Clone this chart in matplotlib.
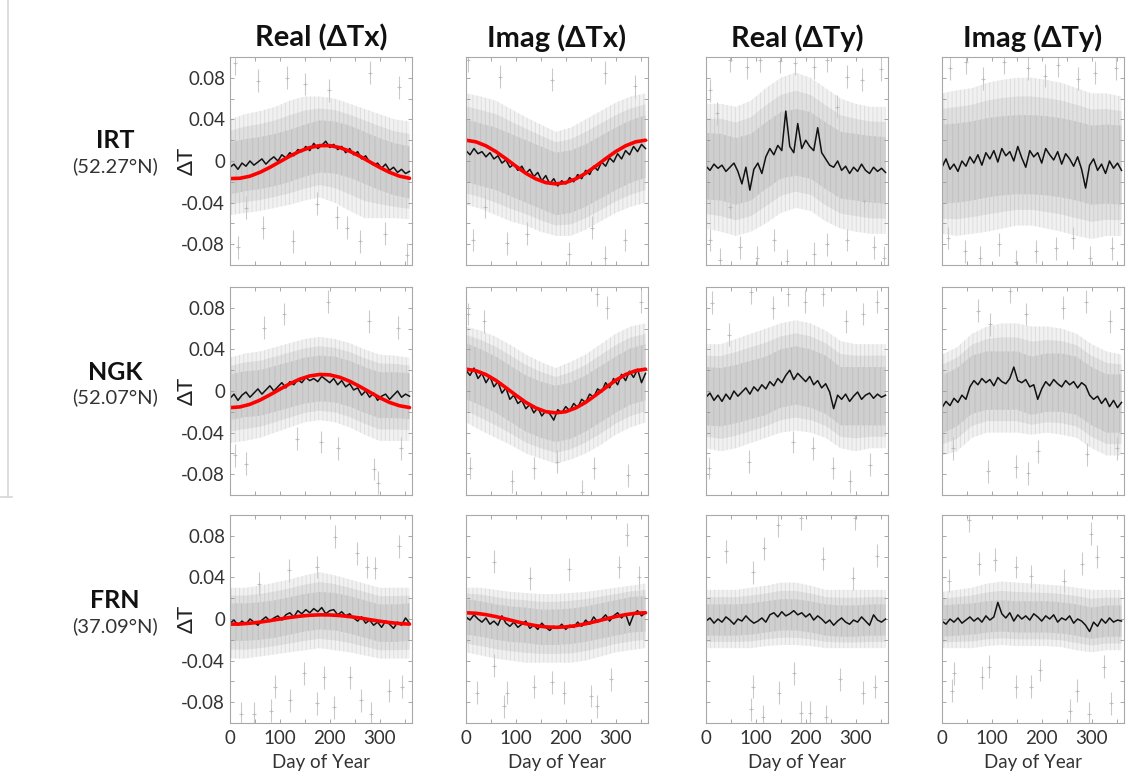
import matplotlib.pyplot as plt
import numpy as np
from matplotlib.lines import Line2D
from matplotlib.ticker import MultipleLocator, FuncFormatter

plt.rcParams['font.family'] = ['Lato', 'DejaVu Sans']
plt.rcParams['axes.unicode_minus'] = False
plt.rcParams['hatch.linewidth'] = 0.7

# all values below are in units of 1e-3
stations = ['IRT', 'NGK', 'FRN']
latitudes = ['(52.27°N)', '(52.07°N)', '(37.09°N)']
columns = ['Real (ΔTx)', 'Imag (ΔTx)', 'Real (ΔTy)', 'Imag (ΔTy)']

mean_days = np.arange(0, 361, 8)     # daily mean (black), sampled every 8 days
band_days = np.arange(0, 361, 30)    # spread of the grey cloud
fit_days = np.arange(0, 361, 20)     # annual fit (red)

# ---------------- IRT ----------------
irt_rtx_mean = [-6, -3, -8, -2, -5, 0, -4, -1, 2, -3, 1, 4, 0, 6, 3, 8, 5, 11, 9, 14, 10, 17, 12,
                15, 19, 13, 16, 11, 14, 8, 12, 6, 9, 2, 5, -1, -4, -2, -7, -3, -9, -6, -11, -8, -12, -10]
irt_rtx_in_hi = [18, 21, 23, 26, 30, 35, 39, 38, 34, 28, 22, 17, 14]
irt_rtx_in_lo = [-32, -29, -27, -24, -20, -15, -11, -12, -16, -22, -28, -33, -36]
irt_rtx_out_hi = [40, 45, 48, 52, 58, 62, 62, 60, 55, 50, 45, 40, 38]
irt_rtx_out_lo = [-52, -50, -48, -45, -42, -38, -35, -40, -48, -55, -55, -55, -56]
irt_rtx_sp_days = [10, 57, 114, 151, 198, 281, 338, 17, 67, 127, 214, 234, 261, 311, 355, 33, 174]
irt_rtx_sp_vals = [94, 77, 80, 74, 68, 85, 71, -83, -64, -77, -54, -64, -77, -70, -90, -45, -41]
irt_rtx_fit = [-16.9, -16.6, -14.6, -10.9, -6.1, -0.7, 4.7, 9.4, 12.9, 14.8,
               14.8, 12.9, 9.4, 4.7, -0.7, -6.1, -10.9, -14.6, -16.6]

irt_itx_mean = [10, 6, 12, 7, 9, 4, 8, 2, 5, -2, 1, -6, -3, -9, -5, -12, -8, -15, -11, -19, -14, -22, -17,
                -24, -19, -22, -16, -20, -13, -17, -9, -13, -5, -9, -1, -5, 3, -1, 7, 2, 10, 6, 14, 9, 16, 12]
irt_itx_in_hi = [40, 36, 32, 26, 20, 14, 8, 10, 16, 24, 32, 39, 44]
irt_itx_in_lo = [-20, -24, -28, -34, -40, -46, -52, -50, -44, -36, -28, -21, -16]
irt_itx_out_hi = [65, 62, 58, 50, 42, 35, 28, 32, 40, 48, 56, 62, 65]
irt_itx_out_lo = [-42, -46, -52, -58, -62, -68, -72, -72, -66, -58, -50, -44, -40]
irt_itx_sp_days = [5, 69, 172, 279, 339, 15, 82, 122, 253, 279, 319, 206, 39]
irt_itx_sp_vals = [97, 81, 78, 85, 72, -76, -79, -70, -64, -93, -76, -89, -44]
irt_itx_fit = [20, 18.4, 14.6, 9.0, 2.2, -5.0, -11.8, -17.2, -20.8, -22,
               -20.8, -17.2, -11.8, -5.0, 2.2, 9.0, 14.6, 18.4, 20]

irt_rty_mean = [-5, -9, -3, -7, -4, -10, -6, -2, -10, -22, -6, -28, -8, -2, -12, 4, 12, 6, 15, 10, 48, 14, 8,
                36, 12, 20, 14, 10, 32, 8, 2, -4, -6, 0, -9, -5, -12, -6, -10, -3, -9, -12, -6, -10, -7, -11]
irt_rty_in_hi = [27, 26, 22, 26, 37, 47, 50, 47, 37, 28, 26, 24, 23]
irt_rty_in_lo = [-37, -38, -42, -38, -27, -17, -14, -17, -27, -36, -38, -40, -41]
irt_rty_out_hi = [55, 55, 52, 58, 70, 80, 85, 80, 70, 60, 55, 52, 52]
irt_rty_out_lo = [-65, -68, -72, -68, -60, -50, -45, -48, -58, -65, -68, -70, -70]
irt_rty_sp_days = [8, 49, 82, 109, 149, 179, 216, 243, 283, 313, 350, 8, 29, 69, 102, 136, 163, 216, 243,
                   283, 337, 357, 22, 263, 49, 317]
irt_rty_sp_vals = [68, 97, 90, 97, 96, 94, 90, 97, 81, 78, 88, -76, -95, -83, -93, -76, -96, -89, -80,
                   -76, -83, -93, 46, 52, -44, -38]

irt_ity_mean = [-6, 2, -8, -3, -10, 0, -5, 4, -2, 6, -4, 8, 2, 10, -1, 12, 5, 9, 0, 14, 3, -6, 10,
                4, 8, -2, 12, 6, 1, 9, -3, 7, 2, -5, 4, -8, -26, -4, 2, -9, -3, -12, 0, -7, -2, -9]
irt_ity_in_hi = [35, 36, 38, 41, 43, 44, 44, 43, 41, 38, 34, 35, 34]
irt_ity_in_lo = [-41, -40, -38, -35, -33, -32, -32, -33, -35, -38, -42, -41, -42]
irt_ity_out_hi = [65, 68, 70, 75, 78, 80, 80, 78, 75, 70, 65, 65, 62]
irt_ity_out_lo = [-70, -72, -70, -68, -65, -62, -62, -65, -68, -72, -75, -72, -72]
irt_ity_sp_days = [16, 49, 83, 124, 173, 207, 232, 273, 307, 349, 12, 46, 77, 114, 148, 189, 228, 263, 297, 341]
irt_ity_sp_vals = [89, 95, 79, 95, 89, 82, 92, 79, 85, 89, -74, -87, -93, -80, -97, -87, -84, -74, -93, -84]

# ---------------- NGK ----------------
ngk_rtx_mean = [-7, -3, -9, -4, -1, -6, -2, 2, -3, 1, 5, 0, 4, 8, 3, 9, 6, 11, 8, 13, 10, 12, 9,
                14, 11, 8, 12, 6, 10, 4, 7, 1, 3, -4, 0, -6, -2, -9, -5, -3, -8, -4, 0, -6, -3, -5]
ngk_rtx_in_hi = [16, 19, 20, 24, 28, 32, 34, 33, 29, 23, 18, 18, 17]
ngk_rtx_in_lo = [-28, -25, -24, -20, -16, -12, -10, -11, -15, -21, -26, -26, -27]
ngk_rtx_out_hi = [32, 36, 38, 42, 46, 50, 52, 50, 46, 40, 35, 34, 32]
ngk_rtx_out_lo = [-50, -48, -45, -40, -35, -30, -28, -30, -35, -42, -48, -48, -48]
ngk_rtx_sp_days = [68, 108, 279, 336, 196, 11, 32, 135, 182, 216, 289, 296, 343]
ngk_rtx_sp_vals = [61, 74, 67, 61, 86, -62, -70, -46, -49, -55, -75, -88, -55]
ngk_rtx_fit = [-16, -15.3, -12.8, -8.8, -3.7, 1.7, 7.0, 11.4, 14.5, 15.9,
               15.5, 13.2, 9.4, 4.4, -1.0, -6.4, -11.0, -14.2, -15.9]

ngk_itx_mean = [20, 15, 22, 12, 17, 8, 14, 4, 9, -2, 3, -8, -4, -12, -9, -17, -13, -21, -16, -24, -19, -22, -28,
                -18, -21, -15, -19, -12, -16, -8, -11, -3, -6, 2, -1, 8, 3, 12, 6, 16, 10, 19, 13, 21, 8, 17]
ngk_itx_in_hi = [46, 40, 33, 24, 15, 9, 5, 8, 15, 24, 33, 41, 45]
ngk_itx_in_lo = [-8, -14, -21, -30, -39, -45, -49, -46, -39, -30, -21, -13, -9]
ngk_itx_out_hi = [62, 58, 52, 44, 35, 28, 22, 28, 35, 45, 55, 62, 65]
ngk_itx_out_lo = [-30, -38, -45, -52, -60, -65, -70, -66, -60, -52, -42, -35, -30]
ngk_itx_sp_days = [5, 36, 263, 283, 350, 9, 92, 136, 183, 233, 256, 324]
ngk_itx_sp_vals = [74, 67, 93, 80, 86, -74, -87, -74, -68, -97, -74, -81]
ngk_itx_fit = [21, 19.5, 15.8, 10.2, 3.2, -4.0, -10.9, -16.3, -19.9, -21,
               -19.9, -16.3, -10.9, -4.0, 3.2, 10.2, 15.8, 19.5, 21]

ngk_rty_mean = [-6, -2, -9, -4, -10, -3, -8, 0, -5, -1, 3, -3, 4, 0, 6, 2, 9, 5, 12, 8, 15, 20, 11,
                17, 13, 9, 14, 6, 10, 3, 7, -1, -17, -4, -8, -3, -10, -5, -1, -8, -4, -2, -7, -3, -6, -4]
ngk_rty_in_hi = [23, 22, 25, 29, 33, 40, 43, 40, 34, 23, 23, 23, 23]
ngk_rty_in_lo = [-33, -34, -31, -27, -23, -16, -13, -16, -22, -33, -33, -33, -33]
ngk_rty_out_hi = [45, 45, 50, 55, 60, 65, 68, 65, 58, 48, 45, 45, 45]
ngk_rty_out_lo = [-55, -58, -55, -50, -45, -40, -38, -40, -45, -55, -58, -55, -55]
ngk_rty_sp_days = [13, 90, 134, 164, 198, 234, 281, 315, 342, 47, 7, 87, 174, 254, 288, 328, 214]
ngk_rty_sp_vals = [85, 95, 80, 93, 86, 93, 67, 74, 86, 54, -74, -68, -49, -74, -87, -71, -55]

ngk_ity_mean = [-16, -10, -14, -7, -11, -4, -8, 4, 10, 6, 12, 8, 11, 5, 13, 9, 7, 12, 23, 10, 8, 11, 4,
                6, -8, 2, 9, 5, 11, 7, 4, 10, 6, 9, 3, 8, 5, -4, -8, -5, -12, -7, -15, -9, -16, -11]
ngk_ity_in_hi = [15, 22, 34, 38, 38, 38, 33, 36, 36, 33, 23, 16, 16]
ngk_ity_in_lo = [-41, -34, -22, -18, -18, -18, -23, -20, -20, -23, -33, -40, -40]
ngk_ity_out_hi = [35, 42, 55, 62, 65, 65, 62, 62, 60, 55, 45, 38, 35]
ngk_ity_out_lo = [-62, -58, -45, -40, -40, -40, -42, -40, -42, -45, -55, -62, -62]
ngk_ity_sp_days = [136, 72, 96, 243, 288, 337, 169, 92, 149, 172, 192, 290, 351, 22]
ngk_ity_sp_vals = [96, 77, 64, 80, 86, 67, 74, -77, -73, -79, -58, -61, -55, -55]

# ---------------- FRN ----------------
frn_rtx_mean = [-4, -1, -6, -2, -5, 0, -3, -6, -1, 2, -2, 1, 3, -1, 4, 6, 2, 8, 5, 9, 6, 10, 7,
                11, 5, 8, 9, 4, 7, 3, 5, 1, -2, 2, -4, -1, -6, -3, -8, -2, -5, -9, -3, -6, 1, -4]
frn_rtx_in_hi = [15, 15, 16, 18, 21, 24, 26, 25, 22, 18, 14, 14, 15]
frn_rtx_in_lo = [-21, -21, -20, -18, -15, -12, -10, -11, -14, -18, -22, -22, -21]
frn_rtx_out_hi = [30, 30, 32, 35, 38, 42, 45, 42, 38, 34, 30, 30, 30]
frn_rtx_out_lo = [-38, -38, -36, -34, -32, -30, -28, -30, -32, -35, -38, -38, -38]
frn_rtx_sp_days = [210, 254, 275, 291, 338, 59, 119, 175, 22, 48, 82, 91, 121, 148, 175, 188, 209, 240,
                   263, 283, 318, 345]
frn_rtx_sp_vals = [79, 63, 50, 49, 70, 34, 47, 50, -91, -91, -88, -65, -78, -52, -81, -56, -85, -56,
                   -78, -91, -69, -65]
frn_rtx_fit = [-5, -4.8, -4.1, -3.0, -1.6, 0, 1.5, 2.7, 3.6, 4.0,
               3.9, 3.3, 2.3, 1.0, -0.6, -2.1, -3.4, -4.4, -4.9]

frn_itx_mean = [2, -1, 4, 0, -3, 1, -5, -2, -6, 3, -4, -7, -3, -8, -5, -2, -9, -6, -10, -4, -8, -11, -7,
                -9, -5, -10, -6, -8, -3, -7, -1, -5, 2, -3, 0, 4, -2, 3, 6, 1, 5, -6, 4, 8, 3, 6]
frn_itx_in_hi = [19, 17, 14, 12, 11, 9, 9, 10, 12, 15, 18, 21, 22]
frn_itx_in_lo = [-15, -17, -20, -22, -23, -25, -25, -24, -22, -19, -16, -13, -12]
frn_itx_out_hi = [30, 30, 28, 26, 25, 24, 24, 25, 26, 28, 30, 32, 34]
frn_itx_out_lo = [-32, -35, -38, -40, -42, -42, -42, -42, -40, -36, -32, -30, -28]
frn_itx_sp_days = [56, 129, 206, 307, 323, 347, 22, 76, 82, 136, 172, 196, 250, 263, 290, 56]
frn_itx_sp_vals = [55, 39, 48, 50, 81, 40, -71, -84, -71, -65, -61, -71, -74, -84, -58, -45]
frn_itx_fit = [6, 5.5, 4.2, 2.3, 0, -2.4, -4.6, -6.4, -7.6, -8,
               -7.6, -6.4, -4.6, -2.4, 0, 2.3, 4.2, 5.5, 6]

frn_rty_mean = [-2, 1, -4, 0, -3, 2, -1, -5, 0, -2, 3, -1, -4, -2, 1, -3, 4, 6, 2, 7, 3, 5, 8,
                4, 6, 2, 5, -1, 3, 0, -4, -1, -6, -2, 1, -3, -5, -1, -3, 2, -2, -6, 4, -1, -3, 0]
frn_rty_in_hi = [14, 14, 14, 15, 17, 19, 19, 17, 14, 13, 13, 14, 14]
frn_rty_in_lo = [-16, -16, -16, -15, -13, -11, -11, -13, -16, -17, -17, -16, -16]
frn_rty_out_hi = [28, 28, 28, 30, 32, 35, 35, 32, 28, 28, 28, 28, 28]
frn_rty_out_lo = [-28, -28, -28, -28, -26, -25, -25, -26, -28, -28, -28, -28, -28]
frn_rty_sp_days = [40, 94, 117, 144, 191, 235, 298, 342, 295, 94, 90, 114, 147, 191, 208, 241, 268, 315, 338, 177]
frn_rty_sp_vals = [65, 45, 68, 90, 97, 58, 97, 61, 39, -65, -87, -94, -71, -90, -90, -94, -58, -71, -65, -52]

frn_ity_mean = [-2, -5, 0, -3, 1, -4, -1, 2, -2, 1, -3, 3, -1, 2, 16, 5, 1, 6, -2, 4, 0, 3, -1,
                5, 2, -2, 3, 0, 4, -3, 1, -1, 3, -4, 0, -2, -6, -12, -3, -7, 0, -4, 1, -3, -1, -2]
frn_ity_in_hi = [13, 14, 15, 17, 18, 17, 17, 17, 16, 14, 11, 13, 13]
frn_ity_in_lo = [-17, -16, -15, -13, -12, -13, -13, -13, -14, -16, -19, -17, -17]
frn_ity_out_hi = [26, 28, 30, 34, 36, 35, 34, 33, 32, 30, 28, 28, 28]
frn_ity_out_lo = [-28, -28, -28, -26, -25, -26, -26, -26, -27, -30, -32, -30, -30]
frn_ity_sp_days = [55, 75, 106, 149, 179, 244, 298, 281, 311, 15, 25, 21, 81, 94, 149, 179, 196, 257,
                   271, 294, 338, 324]
frn_ity_sp_vals = [95, 53, 57, 50, 41, 37, 82, 53, 60, 37, -52, -69, -56, -46, -65, -65, -49, -88,
                   -69, -91, -81, -46]

panels = [
    [(irt_rtx_mean, irt_rtx_in_lo, irt_rtx_in_hi, irt_rtx_out_lo, irt_rtx_out_hi, irt_rtx_sp_days, irt_rtx_sp_vals, irt_rtx_fit),
     (irt_itx_mean, irt_itx_in_lo, irt_itx_in_hi, irt_itx_out_lo, irt_itx_out_hi, irt_itx_sp_days, irt_itx_sp_vals, irt_itx_fit),
     (irt_rty_mean, irt_rty_in_lo, irt_rty_in_hi, irt_rty_out_lo, irt_rty_out_hi, irt_rty_sp_days, irt_rty_sp_vals, None),
     (irt_ity_mean, irt_ity_in_lo, irt_ity_in_hi, irt_ity_out_lo, irt_ity_out_hi, irt_ity_sp_days, irt_ity_sp_vals, None)],
    [(ngk_rtx_mean, ngk_rtx_in_lo, ngk_rtx_in_hi, ngk_rtx_out_lo, ngk_rtx_out_hi, ngk_rtx_sp_days, ngk_rtx_sp_vals, ngk_rtx_fit),
     (ngk_itx_mean, ngk_itx_in_lo, ngk_itx_in_hi, ngk_itx_out_lo, ngk_itx_out_hi, ngk_itx_sp_days, ngk_itx_sp_vals, ngk_itx_fit),
     (ngk_rty_mean, ngk_rty_in_lo, ngk_rty_in_hi, ngk_rty_out_lo, ngk_rty_out_hi, ngk_rty_sp_days, ngk_rty_sp_vals, None),
     (ngk_ity_mean, ngk_ity_in_lo, ngk_ity_in_hi, ngk_ity_out_lo, ngk_ity_out_hi, ngk_ity_sp_days, ngk_ity_sp_vals, None)],
    [(frn_rtx_mean, frn_rtx_in_lo, frn_rtx_in_hi, frn_rtx_out_lo, frn_rtx_out_hi, frn_rtx_sp_days, frn_rtx_sp_vals, frn_rtx_fit),
     (frn_itx_mean, frn_itx_in_lo, frn_itx_in_hi, frn_itx_out_lo, frn_itx_out_hi, frn_itx_sp_days, frn_itx_sp_vals, frn_itx_fit),
     (frn_rty_mean, frn_rty_in_lo, frn_rty_in_hi, frn_rty_out_lo, frn_rty_out_hi, frn_rty_sp_days, frn_rty_sp_vals, None),
     (frn_ity_mean, frn_ity_in_lo, frn_ity_in_hi, frn_ity_out_lo, frn_ity_out_hi, frn_ity_sp_days, frn_ity_sp_vals, None)],
]


def milli(v):
    return np.asarray(v, dtype=float) / 1000.0


W, H = 1130, 778
fig = plt.figure(figsize=(W / 100, H / 100), dpi=100)

col_left = [230, 466, 706, 942]
row_top = [57, 287, 515]
pw, ph = 182, 208

yfmt = FuncFormatter(lambda v, p: '0' if abs(v) < 1e-9 else '%.2f' % v)

for r in range(3):
    for c in range(4):
        ax = fig.add_axes([col_left[c] / W, 1 - (row_top[r] + ph) / H, pw / W, ph / H])
        mean, in_lo, in_hi, out_lo, out_hi, sp_d, sp_v, fit = panels[r][c]
        in_lo, in_hi, out_lo, out_hi = milli(in_lo), milli(in_hi), milli(out_lo), milli(out_hi)

        # grey cloud of individual values with error bars, denser towards the middle
        ax.fill_between(band_days, out_lo, out_hi, facecolor='#f1f1f1',
                        edgecolor='#dedede', hatch='||||', linewidth=0)
        ax.fill_between(band_days, (out_lo + in_lo) / 2, (out_hi + in_hi) / 2, facecolor='#e0e0e0',
                        edgecolor='#cfcfcf', hatch='||||', linewidth=0)
        ax.fill_between(band_days, in_lo, in_hi, facecolor='#cfcfcf',
                        edgecolor='#c0c0c0', hatch='|||', linewidth=0)
        ax.errorbar(sp_d, milli(sp_v), yerr=0.011, fmt='+', ms=3, mew=0.6,
                    color='#b8b8b8', ecolor='#cacaca', elinewidth=0.8, capsize=0)

        ax.plot(mean_days, milli(mean), color='#111111', lw=1.1)
        if fit is not None:
            ax.plot(fit_days, milli(fit), color='#ff0000', lw=2.6, solid_capstyle='round')

        ax.set_xlim(0, 365)
        ax.set_ylim(-0.1, 0.1)
        ax.xaxis.set_major_locator(MultipleLocator(100))
        ax.xaxis.set_minor_locator(MultipleLocator(50))
        ax.yaxis.set_major_locator(MultipleLocator(0.04))
        ax.yaxis.set_minor_locator(MultipleLocator(0.02))
        ax.tick_params(which='both', direction='in', top=True, right=True,
                       color='#9a9a9a', width=0.6)
        ax.tick_params(which='major', length=3, labelsize=13.5, labelcolor='#333333')
        ax.tick_params(axis='x', which='major', pad=5)
        ax.tick_params(which='minor', length=3)
        for s in ax.spines.values():
            s.set_color('#a8a8a8')
            s.set_linewidth(0.8)

        if c == 0:
            ax.yaxis.set_major_formatter(yfmt)
            ax.set_ylabel('ΔT', fontsize=16, color='#222222')
            ax.yaxis.set_label_coords(-0.18, 0.5)
        else:
            ax.set_yticklabels([])
        if r == 2:
            ax.set_xlabel('Day of Year', fontsize=13.5, color='#333333', labelpad=5)
        else:
            ax.set_xticklabels([])

# column titles
for c, t in enumerate(columns):
    fig.text((col_left[c] + pw / 2) / W, 1 - 38 / H, t, ha='center', va='center',
             fontsize=21, fontweight='bold', color='#111111')

# station labels
row_name_y = [141, 372, 601]
for r in range(3):
    fig.text(115 / W, 1 - row_name_y[r] / H, stations[r], ha='center', va='center',
             fontsize=18, fontweight='bold', color='#111111')
    fig.text(115 / W, 1 - (row_name_y[r] + 25) / H, latitudes[r], ha='center', va='center',
             fontsize=14.5, color='#333333')

# thin frame remnant at the left edge
fig.add_artist(Line2D([8 / W, 8 / W], [1, 1 - 497 / H], color='#d6d6d6', lw=1.2))
fig.add_artist(Line2D([0, 12 / W], [1 - 497 / H, 1 - 497 / H], color='#d6d6d6', lw=1.2))

fig.savefig('out.png', dpi=100)
